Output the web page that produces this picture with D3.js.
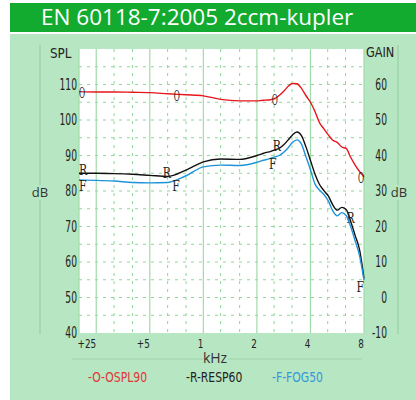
<!DOCTYPE html>
<html>
<head>
<meta charset="utf-8">
<script src="https://cdn.jsdelivr.net/npm/d3@7"></script>
<style>
  body { margin: 0; background: #fff; }
  svg { display: block; }
</style>
</head>
<body>
<div id="chart"></div>
<script>
// frequency points (Hz) shared by all three curves
const freqs = [200, 250, 315, 400, 500, 630, 800, 1000, 1250, 1600, 2000,
  2120, 2240, 2380, 2520, 2670, 2830, 3000, 3170, 3360, 3560, 3770, 4000,
  4240, 4490, 4760, 5040, 5340, 5660, 6000, 6350, 6730, 7130, 7550, 8000];

const ospl90 = [108.0, 107.9, 107.9, 107.8, 107.7, 107.4, 107.1, 106.8, 105.8, 105.4, 105.4,
  105.5, 105.6, 105.7, 106.0, 106.9, 108.1, 109.5, 110.3, 110.2, 108.9, 106.9, 105.0,
  102.4, 99.3, 97.5, 95.8, 94.3, 93.7, 92.4, 92.0, 89.5, 87.3, 85.5, 84.0];
const resp60 = [85.0, 85.0, 84.9, 84.7, 84.4, 84.1, 85.9, 88.2, 89.0, 88.9, 90.0,
  90.4, 90.8, 91.1, 91.6, 92.0, 93.0, 94.4, 95.8, 96.6, 95.6, 92.5, 88.6,
  84.8, 81.9, 80.1, 78.6, 76.1, 74.6, 75.4, 74.8, 71.5, 67.5, 63.5, 55.4];
const fog50 = [83.1, 83.0, 82.8, 82.4, 82.3, 82.4, 84.3, 86.8, 87.3, 87.2, 88.1,
  88.5, 88.8, 89.2, 89.6, 90.0, 90.9, 92.2, 93.7, 94.4, 93.2, 89.7, 86.0,
  82.0, 80.3, 79.0, 77.2, 74.4, 73.0, 73.9, 73.1, 70.0, 66.0, 61.8, 54.9];

// letter markers along each curve (Hz)
const markO = [200, 710, 2522, 8000];
const markR = [200, 624, 2588, 6730];
const markF = [200, 701, 2458, 8000];

const octaveFreqs = [250, 500, 1000, 2000, 4000, 8000];
const octaveLabels = ['+25', '+5', '1', '2', '4', '8'];
const thirdFreqs = [315, 400, 630, 800, 1250, 1600, 2500, 3150, 5000, 6300];
const splTicks = [40, 50, 60, 70, 80, 90, 100, 110];
const gainTicks = [-10, 0, 10, 20, 30, 40, 50, 60];
const gridDb = [45, 50, 55, 60, 65, 70, 75, 80, 85, 90, 95, 100, 105, 110, 115];

const series = [
  { name: '-O-OSPL90', letter: 'O', values: ospl90, marks: markO, color: '#e8141c', text: '#e3343a', dy: 1, sx: 0.55 },
  { name: '-R-RESP60', letter: 'R', values: resp60, marks: markR, color: '#111111', text: '#222222', dy: -4, sx: 0.8 },
  { name: '-F-FOG50', letter: 'F', values: fog50, marks: markF, color: '#1e93d9', text: '#3597da', dy: 6, sx: 0.8 }
];

const width = 416;
const height = 400;
const plot = { left: 79, right: 364, top: 49, bottom: 333 };

const narrow = '"DejaVu Sans Condensed", "Liberation Sans Narrow", sans-serif';
const serif = '"DejaVu Serif Condensed", "Liberation Serif", serif';
const sans = '"Open Sans", "DejaVu Sans", sans-serif';

const svg = d3.select('#chart')
  .append('svg')
  .attr('width', width)
  .attr('height', height);

// title bar and panel
svg.append('rect').attr('x', 10).attr('y', 3).attr('width', width - 10).attr('height', 29).attr('fill', '#12ab2f');
svg.append('text')
  .attr('x', 41).attr('y', 25)
  .attr('fill', '#fff')
  .attr('font-family', sans)
  .attr('font-size', 22.5)
  .text('EN 60118-7:2005 2ccm-kupler');
svg.append('rect').attr('x', 10).attr('y', 34).attr('width', width - 10).attr('height', height - 34).attr('fill', '#b7e6c2');

const x = d3.scaleLog().domain([200, 8000]).range([plot.left, plot.right]);
const y = d3.scaleLinear().domain([40, 120]).range([plot.bottom, plot.top]);
const yGain = d3.scaleLinear().domain([-10, 70]).range([plot.bottom, plot.top]);

svg.append('rect')
  .attr('x', plot.left).attr('y', plot.top)
  .attr('width', plot.right - plot.left).attr('height', plot.bottom - plot.top)
  .attr('fill', '#fff');

// grid
const grid = svg.append('g');
grid.selectAll('.hd')
  .data(gridDb)
  .join('line')
  .attr('x1', plot.left).attr('x2', plot.right)
  .attr('y1', d => y(d)).attr('y2', d => y(d))
  .attr('stroke', '#8ed89a').attr('stroke-width', 1)
  .attr('stroke-dasharray', '3,5');
grid.selectAll('.vd')
  .data(thirdFreqs)
  .join('line')
  .attr('x1', d => x(d)).attr('x2', d => x(d))
  .attr('y1', plot.top).attr('y2', plot.bottom)
  .attr('stroke', '#8ed89a').attr('stroke-width', 1)
  .attr('stroke-dasharray', '3,5');
grid.selectAll('.vs')
  .data([200].concat(octaveFreqs))
  .join('line')
  .attr('x1', d => x(d)).attr('x2', d => x(d))
  .attr('y1', plot.top).attr('y2', plot.bottom)
  .attr('stroke', '#9edca7').attr('stroke-width', 1.2);

// squeezed text helper (the chart uses a very narrow face)
function label(g, px, py, str, opts) {
  return g.append('text')
    .attr('transform', `translate(${px},${py}) scale(${opts.sx || 1},1)`)
    .attr('text-anchor', opts.anchor || 'start')
    .attr('dy', opts.dy || 0)
    .attr('font-family', opts.family || narrow)
    .attr('font-size', opts.size)
    .attr('fill', opts.fill || '#222')
    .text(str);
}

// side rules with dB labels
function sideRule(xp) {
  svg.append('line').attr('x1', xp).attr('x2', xp).attr('y1', 45).attr('y2', 185)
    .attr('stroke', '#9fd6aa').attr('stroke-width', 1.6);
  svg.append('line').attr('x1', xp).attr('x2', xp).attr('y1', 200).attr('y2', 334)
    .attr('stroke', '#9fd6aa').attr('stroke-width', 1.6);
}
sideRule(40);
sideRule(398);
label(svg, 40, 192, 'dB', { anchor: 'middle', dy: '0.35em', family: sans, size: 13, fill: '#333' });
label(svg, 399, 192, 'dB', { anchor: 'middle', dy: '0.35em', family: sans, size: 13, fill: '#333' });

const axes = svg.append('g');
splTicks.forEach(d => label(axes, 77, y(d), d, { anchor: 'end', dy: '0.36em', size: 15, sx: 0.68 }));
gainTicks.forEach(d => label(axes, 387, yGain(d), d, { anchor: 'end', dy: '0.36em', size: 15, sx: 0.68 }));
label(axes, 50, 58, 'SPL', { size: 14, sx: 0.95 });
label(axes, 366, 57, 'GAIN', { size: 14, sx: 0.9 });

// frequency labels
octaveFreqs.forEach((d, i) => label(axes, x(d), 348, octaveLabels[i], { anchor: 'end', size: 12, sx: 0.82 }));

svg.append('line').attr('x1', 72).attr('x2', 203).attr('y1', 359).attr('y2', 359)
  .attr('stroke', '#9fd6aa').attr('stroke-width', 1.2);
svg.append('line').attr('x1', 228).attr('x2', 362).attr('y1', 359).attr('y2', 359)
  .attr('stroke', '#9fd6aa').attr('stroke-width', 1.2);
label(svg, 215, 363, 'kHz', { anchor: 'middle', family: sans, size: 14, fill: '#333' });

// curves
const line = d3.line()
  .x((d, i) => x(freqs[i]))
  .y(d => y(d))
  .curve(d3.curveMonotoneX);

const curves = svg.append('g');
series.forEach(s => {
  curves.append('path')
    .attr('d', line(s.values))
    .attr('fill', 'none')
    .attr('stroke', s.color)
    .attr('stroke-width', 1.4);

  // value along the curve at a marker frequency
  const along = d3.scaleLog().domain(freqs).range(s.values);
  s.marks.forEach(f => {
    const anchor = f <= 200 ? 'start' : (f >= 8000 ? 'end' : 'middle');
    label(curves, x(f), y(along(f)) + s.dy, s.letter,
      { anchor: anchor, dy: '0.36em', family: serif, size: 15, sx: s.sx });
  });
});

// legend
const legendX = [88, 186, 272];
series.forEach((s, i) => label(svg, legendX[i], 382, s.name, { size: 14, sx: 0.86, fill: s.text }));
</script>
</body>
</html>
